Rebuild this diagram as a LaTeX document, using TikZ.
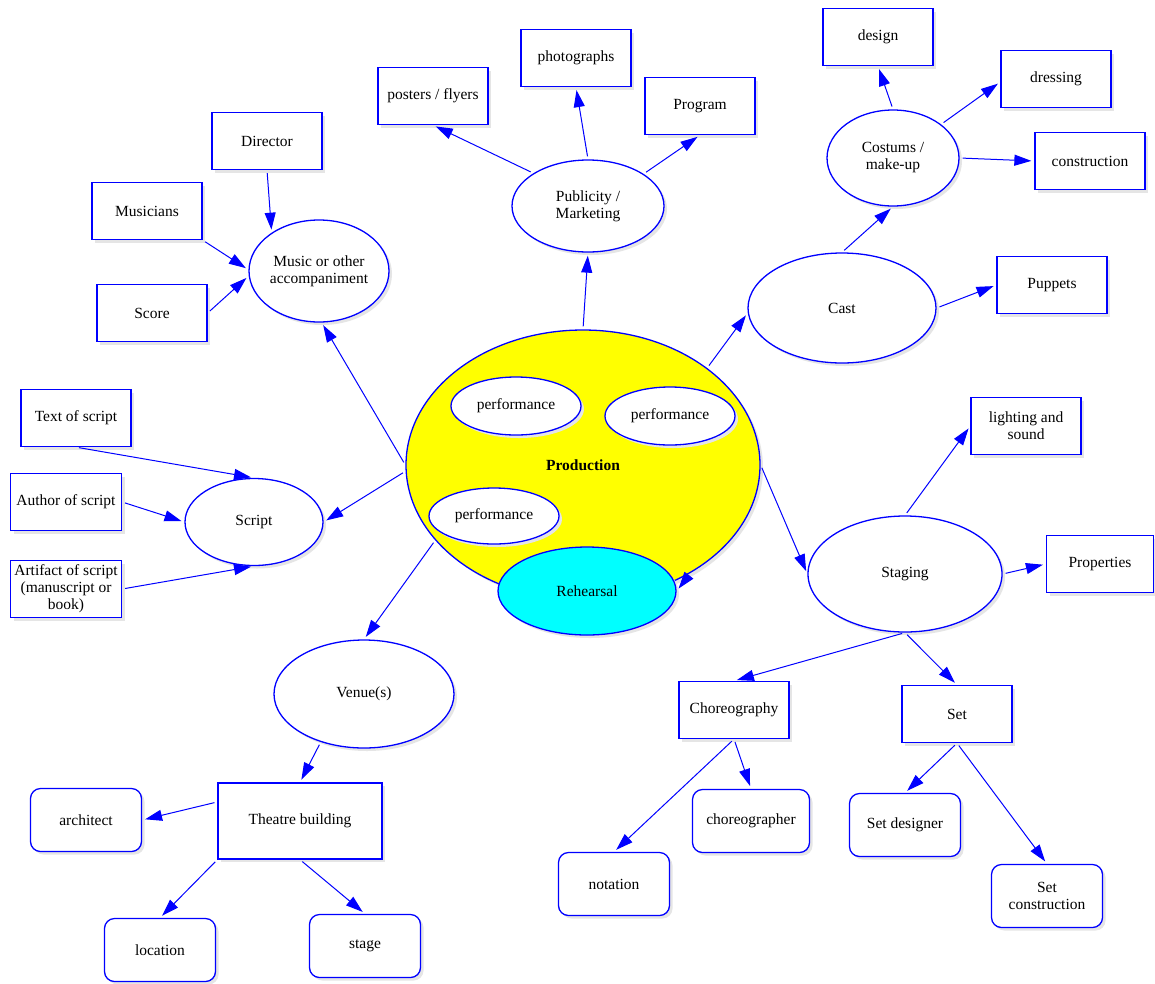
\documentclass[tikz,border=0pt]{standalone}
\usepackage{fontspec}
\setmainfont{Liberation Serif}
\usetikzlibrary{arrows.meta,shapes.geometric,shadows}
\definecolor{bl}{RGB}{0,0,255}
\definecolor{yl}{RGB}{255,255,0}
\definecolor{cy}{RGB}{0,255,255}
\tikzset{
  base/.style={draw=bl, line width=1.3pt, fill=white, text=black,
    font=\fontsize{15.5}{17}\selectfont, align=center, inner sep=0pt,
    drop shadow={shadow xshift=3pt, shadow yshift=-3pt, fill=black!10, opacity=1}},
  box/.style={base, rectangle, minimum width=110pt, minimum height=57pt},
  rbox/.style={base, rectangle, rounded corners=10pt, minimum width=111pt, minimum height=63pt},
  oval/.style 2 args={base, ellipse, minimum width=#1, minimum height=#2},
  arr/.style={draw=bl, line width=1pt, -{Triangle[length=17pt,width=11pt]},
    shorten >=3pt, shorten <=3pt},
}
\begin{document}
\begin{tikzpicture}[x=1pt,y=-1pt]
\useasboundingbox (0,0) rectangle (1155,983);
\fill[white] (0,0) rectangle (1155,983);

% central production
\node[oval={354pt}{270pt}, fill=yl] (prod) at (583,465) {\textbf{Production}};
\node[oval={130pt}{58pt}] (perf1) at (516,406) {performance};
\node[oval={130pt}{58pt}] (perf2) at (670,416) {performance};
\node[oval={130pt}{56pt}] (perf3) at (494,516) {performance};
\node[oval={178pt}{88pt}, fill=cy] (rehearsal) at (587,591) {Rehearsal};

% music
\node[oval={140pt}{102pt}] (music) at (319,271) {Music or other\\accompaniment};
\node[box] (director) at (267,141) {Director};
\node[box] (musicians) at (147,211) {Musicians};
\node[box] (score) at (152,313) {Score};

% script
\node[oval={138pt}{87pt}] (script) at (254,522) {Script};
\node[box] (textscript) at (76,418) {Text of script};
\node[box, minimum width=111pt] (author) at (66,502) {Author of script};
\node[box, minimum width=111pt] (artifact) at (66,589) {Artifact of script\\(manuscript or\\book)};

% venue
\node[oval={180pt}{108pt}] (venue) at (364,694) {Venue(s)};
\node[box, minimum width=164pt, minimum height=76pt] (theatre) at (300,821) {Theatre building};
\node[rbox] (architect) at (86,820) {architect};
\node[rbox] (location) at (160,950) {location};
\node[rbox] (stage) at (365,946) {stage};

% publicity
\node[oval={152pt}{92pt}] (pub) at (588,206) {Publicity /\\Marketing};
\node[box] (posters) at (433,96) {posters / flyers};
\node[box] (photos) at (576,58) {photographs};
\node[box] (program) at (700,106) {Program};

% cast
\node[oval={188pt}{110pt}] (cast) at (842,308) {Cast};
\node[oval={132pt}{96pt}] (costums) at (893,158) {Costums /\\make-up};
\node[box] (design) at (878,37) {design};
\node[box] (dressing) at (1056,79) {dressing};
\node[box] (construction) at (1090,161) {construction};
\node[box] (puppets) at (1052,285) {Puppets};

% staging
\node[oval={194pt}{116pt}] (staging) at (905,574) {Staging};
\node[box] (lighting) at (1026,426) {lighting and\\sound};
\node[box, minimum width=107pt] (props) at (1100,564) {Properties};
\node[box] (choreo) at (734,710) {Choreography};
\node[box] (set) at (957,714) {Set};
\node[rbox] (notation) at (614,884) {notation};
\node[rbox, minimum width=117pt] (chgr) at (751,821) {choreographer};
\node[rbox] (setdes) at (905,825) {Set designer};
\node[rbox] (setcon) at (1047,896) {Set\\construction};

% connectors
\draw[arr] (director.south) -- (music.141);
\draw[arr] (musicians.south east) -- (music.179);
\draw[arr] (score.east) -- (music.184);
\draw[arr] (prod.west) -- (music.-87);
\draw[arr] (prod.182) -- (script.east);
\draw[arr] (textscript.south) -- (script.north);
\draw[arr] (author.east) -- (script.west);
\draw[arr] (artifact.east) -- (script.south);
\draw[arr] (prod.207) -- (venue.north);
\draw[arr] (venue.228) -- (theatre.north);
\draw[arr] (theatre.167) -- (architect.east);
\draw[arr] (theatre.south west) -- (location.north);
\draw[arr] (theatre.south) -- (stage.north);
\draw[arr] (prod.north) -- (pub.south);
\draw[arr] (pub.149) -- (posters.south);
\draw[arr] (pub.north) -- (photos.south);
\draw[arr] (pub.30) -- (program.south);
\draw[arr] (prod.38) -- (cast.183);
\draw[arr] (cast.north) -- (costums.south);
\draw[arr] (costums.north) -- (design.south);
\draw[arr] (costums.35) -- (dressing.183);
\draw[arr] (costums.east) -- (construction.west);
\draw[arr] (cast.east) -- (puppets.west);
\draw[arr] (prod.east) -- (staging.west);
\draw[arr] (staging.north) -- (lighting.west);
\draw[arr] (staging.east) -- (props.west);
\draw[arr] (staging.south) -- (choreo.north);
\draw[arr] (staging.south) -- (set.north);
\draw[arr] (choreo.south) -- (notation.north);
\draw[arr] (choreo.south) -- (chgr.north);
\draw[arr] (set.south) -- (setdes.north);
\draw[arr] (set.south) -- (setcon.north);
\draw[arr] (prod.-45) -- (rehearsal.east);
\end{tikzpicture}
\end{document}
